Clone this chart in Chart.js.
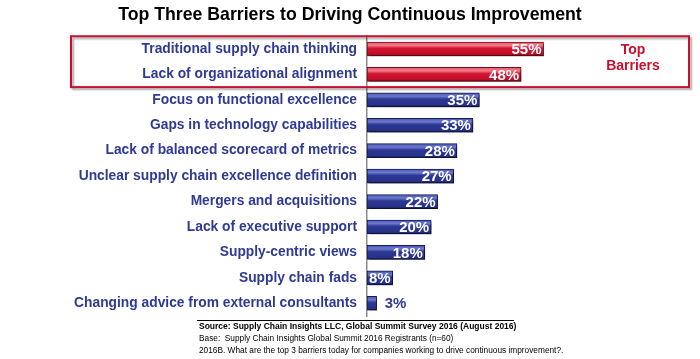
<!DOCTYPE html>
<html>
<head>
<meta charset="utf-8">
<script src="https://cdn.jsdelivr.net/npm/chart.js@4.4.1/dist/chart.umd.min.js"></script>
<style>
html,body{margin:0;padding:0;background:#fff;}
#wrap{width:700px;height:359px;position:relative;}
</style>
</head>
<body>
<div id="wrap"><canvas id="c" width="700" height="359"></canvas></div>
<script>
const categories = [
  "Traditional supply chain thinking",
  "Lack of organizational alignment",
  "Focus on functional excellence",
  "Gaps in technology capabilities",
  "Lack of balanced scorecard of metrics",
  "Unclear supply chain excellence definition",
  "Mergers and acquisitions",
  "Lack of executive support",
  "Supply-centric views",
  "Supply chain fads",
  "Changing advice from external consultants"
];
const percentages = [55, 48, 35, 33, 28, 27, 22, 20, 18, 8, 3];
const topBarrierCount = 2;
const titleText = "Top Three Barriers to Driving Continuous Improvement";
const boxLabel = ["Top", "Barriers"];
const footerLines = [
  "Source: Supply Chain Insights LLC, Global Summit Survey 2016 (August 2016)",
  "Base:  Supply Chain Insights Global Summit 2016 Registrants (n=60)",
  "2016B. What are the top 3 barriers today for companies working to drive continuous improvement?."
];

const FONT = "'Liberation Sans', Arial, sans-serif";
const BLUE = "#2a3593";
const RED = "#d01230";
const LABEL_BLUE = "#2e3a94";
const BAR_T = 14;

function barFill(c) {
  const ch = c.chart;
  const isTop = c.dataIndex < topBarrierCount;
  if (!ch.chartArea || !ch.scales.y) return isTop ? RED : BLUE;
  const y = ch.scales.y.getPixelForValue(c.dataIndex);
  const g = ch.ctx.createLinearGradient(0, y - BAR_T / 2, 0, y + BAR_T / 2);
  if (isTop) {
    g.addColorStop(0, "#e8586c");
    g.addColorStop(0.25, "#f27a8a");
    g.addColorStop(0.45, "#d41432");
    g.addColorStop(0.85, "#c00f2a");
    g.addColorStop(1, "#7d0a1c");
  } else {
    g.addColorStop(0, "#4b58b4");
    g.addColorStop(0.25, "#6c79cc");
    g.addColorStop(0.45, "#2c3896");
    g.addColorStop(0.85, "#283288");
    g.addColorStop(1, "#141b55");
  }
  return g;
}

const shadowPlugin = {
  id: "shadow",
  beforeDatasetDraw(chart) {
    const ctx = chart.ctx;
    ctx.save();
    ctx.shadowColor = "rgba(0,0,0,0.45)";
    ctx.shadowOffsetX = 2;
    ctx.shadowOffsetY = 2;
    ctx.shadowBlur = 2;
  },
  afterDatasetDraw(chart) {
    chart.ctx.restore();
  }
};

const decoPlugin = {
  id: "deco",
  beforeDatasetsDraw(chart) {
    const ctx = chart.ctx;
    const ys = chart.scales.y;
    const y0 = ys.getPixelForValue(0);
    const y1 = ys.getPixelForValue(1);
    const half = (y1 - y0) / 2;
    const top = y0 - half;
    const bot = y1 + half;
    const left = 71, right = 689;
    ctx.save();
    ctx.shadowColor = "rgba(0,0,0,0.35)";
    ctx.shadowOffsetX = 2;
    ctx.shadowOffsetY = 2;
    ctx.shadowBlur = 2;
    ctx.strokeStyle = "#c8102e";
    ctx.lineWidth = 2;
    ctx.strokeRect(left, top, right - left, bot - top);
    ctx.restore();
    ctx.save();
    ctx.fillStyle = "#c8102e";
    ctx.font = "bold 14px " + FONT;
    ctx.textAlign = "center";
    ctx.textBaseline = "middle";
    ctx.fillText(boxLabel[0], 633, y0 + 1);
    ctx.fillText(boxLabel[1], 633, y0 + 17);
    ctx.restore();
  },
  afterDatasetsDraw(chart) {
    const ctx = chart.ctx;
    const meta = chart.getDatasetMeta(0);
    ctx.save();
    ctx.font = "bold 15px " + FONT;
    ctx.textBaseline = "middle";
    meta.data.forEach((el, i) => {
      const v = percentages[i];
      const txt = v + "%";
      if (v < 5) {
        ctx.fillStyle = LABEL_BLUE;
        ctx.textAlign = "left";
        ctx.fillText(txt, el.x + 8, el.y + 1);
      } else {
        ctx.fillStyle = "#ffffff";
        ctx.textAlign = "right";
        ctx.fillText(txt, el.x - 2, el.y + 1);
      }
    });
    ctx.restore();
  },
  afterDraw(chart) {
    const ctx = chart.ctx;
    ctx.save();
    ctx.strokeStyle = "#000";
    ctx.lineWidth = 1;
    ctx.beginPath();
    ctx.moveTo(197, 320.5);
    ctx.lineTo(514, 320.5);
    ctx.stroke();
    ctx.fillStyle = "#000";
    ctx.textAlign = "left";
    ctx.textBaseline = "middle";
    ctx.font = "bold 8.5px " + FONT;
    ctx.fillText(footerLines[0], 199, 327);
    ctx.font = "8.3px " + FONT;
    ctx.fillText(footerLines[1], 199, 339);
    ctx.fillText(footerLines[2], 199, 351);
    ctx.restore();
  }
};

new Chart(document.getElementById("c"), {
  type: "bar",
  data: {
    labels: categories,
    datasets: [{
      data: percentages,
      backgroundColor: barFill,
      borderColor: (c) => c.dataIndex < topBarrierCount ? "#7a0a1a" : "#151c58",
      borderWidth: 1,
      borderSkipped: false,
      barThickness: BAR_T
    }]
  },
  plugins: [shadowPlugin, decoPlugin],
  options: {
    indexAxis: "y",
    responsive: false,
    animation: false,
    devicePixelRatio: 1,
    layout: { padding: { left: 12, right: 12, top: 0, bottom: 43 } },
    plugins: {
      legend: { display: false },
      tooltip: { enabled: false },
      title: {
        display: true,
        text: titleText,
        color: "#000",
        font: { family: FONT, size: 17.7, weight: "bold" },
        padding: { top: 4, bottom: 11 }
      }
    },
    scales: {
      x: { display: false, min: 0, max: 100 },
      y: {
        afterFit(s) { s.width = 355; },
        grid: { display: false },
        border: { display: true, color: "#8c8c8c", width: 1.5 },
        ticks: {
          color: LABEL_BLUE,
          padding: 2,
          font: { family: FONT, size: 13.8, weight: "bold" }
        }
      }
    }
  }
});
</script>
</body>
</html>
